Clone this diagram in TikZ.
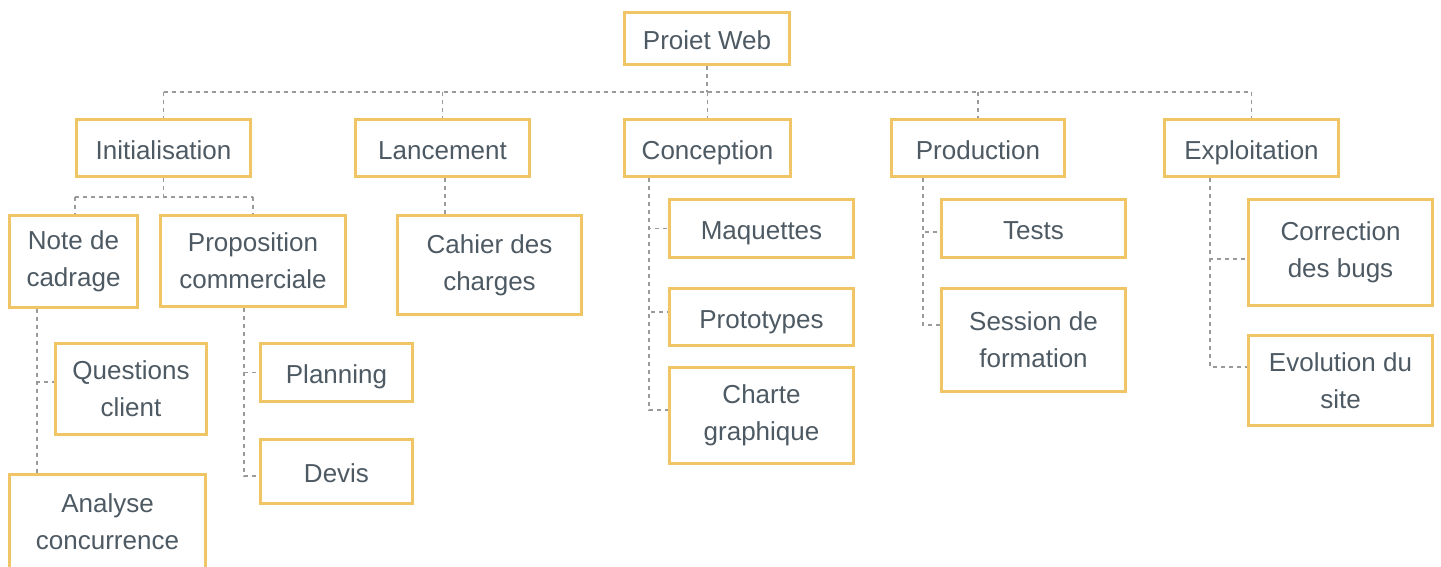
\documentclass[tikz,border=0pt]{standalone}
\usepackage{fontspec}
\setmainfont{Liberation Sans}
\definecolor{cadre}{HTML}{F0C566}
\definecolor{texte}{HTML}{4E5A63}
\definecolor{trait}{HTML}{9A9A9A}
\begin{document}
\begin{tikzpicture}[x=1pt,y=-1pt,
	tache/.style={draw=cadre,line width=3pt,fill=white,inner sep=0pt,align=center,
		text=texte,font=\fontsize{26}{37}\selectfont},
	ligne/.style={tache,text height=27pt,text depth=5pt},
	lien/.style={draw=trait,line width=1.8pt,dash pattern=on 4pt off 4pt}]
	\useasboundingbox[fill=white] (0,0) rectangle (1441,566);
	% niveau 0 et 1
	\node[ligne,minimum width=165pt,minimum height=52pt] (web) at (707,38.5) {Proiet Web};
	\node[ligne,minimum width=174pt,minimum height=57pt] (init) at (163.5,148) {Initialisation};
	\node[ligne,minimum width=174pt,minimum height=57pt] (lanc) at (442.5,148) {Lancement};
	\node[ligne,minimum width=166pt,minimum height=57pt] (conc) at (707.5,148) {Conception};
	\node[ligne,minimum width=173pt,minimum height=57pt] (prod) at (978,148) {Production};
	\node[ligne,minimum width=174pt,minimum height=57pt] (expl) at (1251.5,148) {Exploitation};
	% niveau 2
	\node[tache,minimum width=128pt,minimum height=92pt] (note) at (73.5,261.5) {Note de\\cadrage};
	\node[tache,minimum width=185pt,minimum height=91pt] (prop) at (253,261) {Proposition\\commerciale};
	\node[tache,minimum width=184pt,minimum height=99pt] (cahier) at (489.5,265) {Cahier des\\charges};
	\node[ligne,minimum width=184pt,minimum height=58pt] (maq) at (761.5,228.5) {Maquettes};
	\node[ligne,minimum width=184pt,minimum height=57pt] (proto) at (761.5,317) {Prototypes};
	\node[tache,minimum width=184pt,minimum height=96pt] (charte) at (761.5,415.5) {Charte\\graphique};
	\node[ligne,minimum width=184pt,minimum height=58pt] (tests) at (1033.5,228.5) {Tests};
	\node[tache,minimum width=184pt,minimum height=103pt] (session) at (1033.5,340) {Session de\\formation};
	\node[tache,minimum width=184pt,minimum height=106pt] (corr) at (1340.5,252.5) {Correction\\des bugs};
	\node[tache,minimum width=184pt,minimum height=90pt] (evol) at (1340.5,380.5) {Evolution du\\site};
	% niveau 3
	\node[tache,minimum width=151pt,minimum height=91pt] (quest) at (131,389) {Questions\\client};
	\node[tache,minimum width=196pt,minimum height=96pt] (analyse) at (107.5,522) {Analyse\\concurrence};
	\node[ligne,minimum width=152pt,minimum height=58pt] (plan) at (336.5,372.5) {Planning};
	\node[ligne,minimum width=152pt,minimum height=64pt] (devis) at (336.5,471.5) {Devis};
	% liens
	\coordinate (rail) at (0,92);
	\coordinate (railinit) at (0,197);
	\draw[lien] (web.south) -- (web.south |- rail);
	\draw[lien] (init.north |- rail) -- (expl.north |- rail);
	\foreach \n in {init,lanc,conc,prod,expl}
		\draw[lien] (\n.north |- rail) -- (\n.north);
	\draw[lien] (init.south) -- (init.south |- railinit);
	\draw[lien] ([xshift=1.5pt]note.north |- railinit) -- (prop.north |- railinit);
	\draw[lien] ([xshift=1.5pt]note.north |- railinit) -- ([xshift=1.5pt]note.north);
	\draw[lien] (prop.north |- railinit) -- (prop.north);
	\draw[lien] ([xshift=29pt]note.south west) -- ([xshift=29pt]note.south west |- analyse.north);
	\draw[lien] ([xshift=29pt]note.south west) |- ([yshift=7pt]quest.west);
	\draw[lien] ([xshift=-9pt]prop.south) |- (plan.west);
	\draw[lien] ([xshift=-9pt]prop.south) |- ([yshift=-4.5pt]devis.west);
	\draw[lien] ([xshift=2.5pt]lanc.south) -- ([xshift=2.5pt]lanc.south |- cahier.north);
	\draw[lien] ([xshift=26pt]conc.south west) |- (maq.west);
	\draw[lien] ([xshift=26pt]conc.south west) |- ([yshift=5pt]proto.west);
	\draw[lien] ([xshift=26pt]conc.south west) |- ([yshift=5.5pt]charte.west);
	\draw[lien] ([xshift=33pt]prod.south west) |- ([yshift=-3.5pt]tests.west);
	\draw[lien] ([xshift=33pt]prod.south west) |- ([yshift=15pt]session.west);
	\draw[lien] ([xshift=47pt]expl.south west) |- ([yshift=-6.5pt]corr.west);
	\draw[lien] ([xshift=47pt]expl.south west) |- ([yshift=13.5pt]evol.west);
\end{tikzpicture}
\end{document}
